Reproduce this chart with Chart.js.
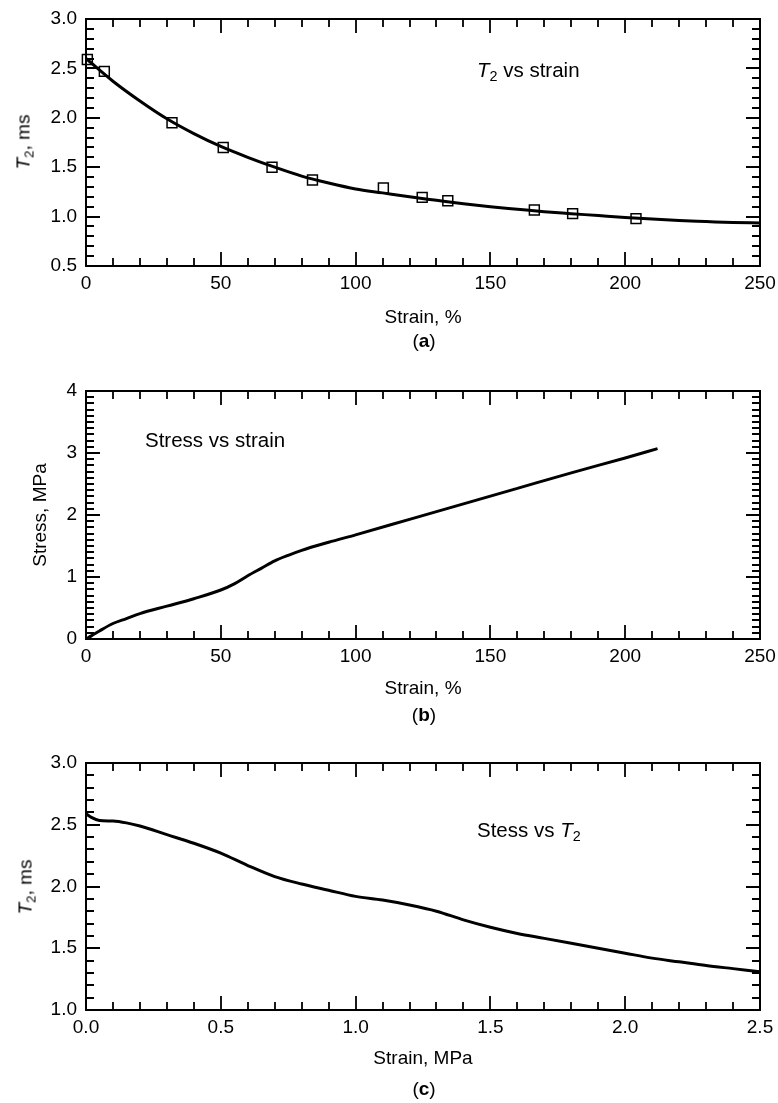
<!DOCTYPE html>
<html>
<head>
<meta charset="utf-8">
<script src="https://cdn.jsdelivr.net/npm/chart.js@4.4.0/dist/chart.umd.min.js"></script>
<style>
  body { margin: 0; background: #fff; }
  #page { position: relative; width: 778px; height: 1103px; background: #fff;
          font-family: "Liberation Sans", Arial, Helvetica, sans-serif; color: #000; }
  canvas { position: absolute; left: 0; }
  .lbl { position: absolute; white-space: nowrap; transform: translate(0, -50%); font-size: 20.5px; line-height: 1; }
  .ctr { transform: translate(-50%, -50%); }
  .rot { transform: translate(-50%, -50%) rotate(-90deg); }
  sub { font-size: 0.7em; vertical-align: -0.3em; line-height: 0; }
</style>
</head>
<body>
<div id="page">
  <canvas id="chartA" width="778" height="340" style="top:0px"></canvas>
  <canvas id="chartB" width="778" height="360" style="top:360px"></canvas>
  <canvas id="chartC" width="778" height="340" style="top:740px"></canvas>

  <div class="lbl" style="left:477px;top:70px"><i>T</i><sub>2</sub> vs strain</div>
  <div class="lbl" style="left:145px;top:440px">Stress vs strain</div>
  <div class="lbl" style="left:477px;top:830px">Stess vs <i>T</i><sub>2</sub></div>

  <div class="lbl rot" style="left:23px;top:142px;font-size:19px"><i>T</i><sub>2</sub>, ms</div>
  <div class="lbl rot" style="left:25px;top:887px;font-size:19px"><i>T</i><sub>2</sub>, ms</div>

  <div class="lbl ctr" style="left:424px;top:340px;font-size:19px">(<b>a</b>)</div>
  <div class="lbl ctr" style="left:424px;top:714px;font-size:19px">(<b>b</b>)</div>
  <div class="lbl ctr" style="left:424px;top:1088px;font-size:19px">(<b>c</b>)</div>
</div>
<script>
const FONT = '"Liberation Sans", Arial, Helvetica, sans-serif';

// (a) T2 vs strain: measured squares and fitted curve
const strainA = [0.5, 6.8, 31.9, 50.9, 69, 84, 110.3, 124.7, 134.2, 166.3, 180.5, 204];
const t2A = [2.59, 2.47, 1.95, 1.70, 1.50, 1.37, 1.29, 1.195, 1.16, 1.067, 1.03, 0.98];
const fitStrainA = [0, 10, 20, 30, 40, 50, 60, 70, 80, 90, 100, 110, 120, 130, 140, 150, 160, 170, 180, 190, 200, 210, 220, 230, 240, 250];
const fitT2A = [2.60, 2.37, 2.17, 1.99, 1.84, 1.71, 1.60, 1.50, 1.41, 1.34, 1.28, 1.24, 1.20, 1.165, 1.13, 1.10, 1.075, 1.05, 1.03, 1.01, 0.99, 0.975, 0.96, 0.95, 0.94, 0.935];
const xTicksA = [0, 50, 100, 150, 200, 250];
const yTicksA = [0.5, 1.0, 1.5, 2.0, 2.5, 3.0];

// (b) stress vs strain
const strainB = [0, 2, 5, 10, 15, 20, 30, 40, 50, 55, 60, 65, 70, 75, 80, 90, 100, 120, 140, 160, 180, 200, 212];
const stressB = [0, 0.05, 0.13, 0.25, 0.33, 0.41, 0.53, 0.65, 0.79, 0.89, 1.02, 1.14, 1.26, 1.35, 1.43, 1.56, 1.68, 1.93, 2.18, 2.43, 2.68, 2.92, 3.07];
const xTicksB = [0, 50, 100, 150, 200, 250];
const yTicksB = [0, 1, 2, 3, 4];

// (c) T2 vs stress
const stressC = [0, 0.02, 0.05, 0.1, 0.15, 0.2, 0.3, 0.4, 0.5, 0.6, 0.7, 0.8, 0.9, 1.0, 1.1, 1.2, 1.3, 1.4, 1.5, 1.6, 1.7, 1.8, 1.9, 2.0, 2.1, 2.2, 2.3, 2.4, 2.5];
const t2C = [2.59, 2.56, 2.535, 2.53, 2.515, 2.49, 2.42, 2.35, 2.27, 2.17, 2.08, 2.02, 1.97, 1.92, 1.89, 1.85, 1.80, 1.73, 1.67, 1.62, 1.58, 1.54, 1.50, 1.46, 1.42, 1.39, 1.36, 1.335, 1.31];
const xTicksC = [0, 0.5, 1.0, 1.5, 2.0, 2.5];
const yTicksC = [1.0, 1.5, 2.0, 2.5, 3.0];

const toPoints = (xs, ys) => xs.map((x, i) => ({ x: x, y: ys[i] }));

// box frame with inward major/minor ticks on all four sides
const frameTicks = {
  id: 'frameTicks',
  afterDatasetsDraw(chart, args, opts) {
    const { ctx, chartArea: a } = chart;
    const xs = chart.scales.x, ys = chart.scales.y;
    const isMajor = (scale, v) => scale.ticks.some(t => Math.abs(t.value - v) < 1e-6);
    const steps = (scale, step) => {
      const n = Math.round((scale.max - scale.min) / step);
      const out = [];
      for (let i = 0; i <= n; i++) out.push(scale.min + i * step);
      return out;
    };
    ctx.save();
    ctx.strokeStyle = '#000';
    ctx.lineWidth = 2;
    ctx.strokeRect(a.left, a.top, a.right - a.left, a.bottom - a.top);
    ctx.beginPath();
    steps(xs, opts.xMinor).forEach(v => {
      const px = Math.round(xs.getPixelForValue(v));
      const len = isMajor(xs, v) ? 14 : 8;
      ctx.moveTo(px, a.bottom); ctx.lineTo(px, a.bottom - len);
      ctx.moveTo(px, a.top); ctx.lineTo(px, a.top + len);
    });
    steps(ys, opts.yMinor).forEach(v => {
      const py = Math.round(ys.getPixelForValue(v));
      const len = isMajor(ys, v) ? 14 : 8;
      ctx.moveTo(a.left, py); ctx.lineTo(a.left + len, py);
      ctx.moveTo(a.right, py); ctx.lineTo(a.right - len, py);
    });
    ctx.lineWidth = 1.8;
    ctx.stroke();
    ctx.restore();
  }
};

function makeOptions(o) {
  return {
    responsive: false,
    animation: false,
    devicePixelRatio: 1,
    layout: { padding: { top: o.padTop, right: 18, left: 0, bottom: 0 } },
    plugins: {
      legend: { display: false },
      tooltip: { enabled: false },
      frameTicks: { xMinor: o.xMinor, yMinor: o.yMinor }
    },
    scales: {
      x: {
        type: 'linear',
        min: o.xTicks[0],
        max: o.xTicks[o.xTicks.length - 1],
        grid: { display: false, drawTicks: false },
        border: { display: false },
        afterBuildTicks: s => { s.ticks = o.xTicks.map(v => ({ value: v })); },
        afterFit: s => { s.height = o.xHeight; s.paddingLeft = 0; s.paddingRight = 0; },
        ticks: { padding: 6, color: '#000', font: { family: FONT, size: 19 }, maxRotation: 0, autoSkip: false, callback: o.xFmt },
        title: { display: true, text: o.xTitle, color: '#000', font: { family: FONT, size: 19 }, padding: { top: 0, bottom: o.xTitlePad } }
      },
      y: {
        type: 'linear',
        min: o.yTicks[0],
        max: o.yTicks[o.yTicks.length - 1],
        grid: { display: false, drawTicks: false },
        border: { display: false },
        afterBuildTicks: s => { s.ticks = o.yTicks.map(v => ({ value: v })); },
        afterFit: s => { s.width = 86; s.paddingTop = 0; s.paddingBottom = 0; },
        ticks: { padding: 9, color: '#000', font: { family: FONT, size: 19 }, autoSkip: false, callback: o.yFmt },
        title: o.yTitle
          ? { display: true, text: o.yTitle, color: '#000', font: { family: FONT, size: 19 }, padding: { top: o.yTitlePad, bottom: 0 } }
          : { display: false }
      }
    }
  };
}

const lineStyle = { showLine: true, borderColor: '#000', borderWidth: 3, pointRadius: 0, cubicInterpolationMode: 'monotone', fill: false };
const fixed1 = v => Number(v).toFixed(1);
const plain = v => String(v);

new Chart(document.getElementById('chartA'), {
  type: 'scatter',
  data: {
    datasets: [
      Object.assign({ data: toPoints(fitStrainA, fitT2A) }, lineStyle),
      {
        data: toPoints(strainA, t2A),
        showLine: false,
        pointStyle: 'rect',
        pointRadius: 7,
        borderColor: '#000',
        borderWidth: 1.5,
        backgroundColor: 'rgba(0,0,0,0)',
        clip: false
      }
    ]
  },
  options: makeOptions({
    padTop: 19, xHeight: 74, xTitlePad: 10.6, xTitle: 'Strain, %',
    xTicks: xTicksA, yTicks: yTicksA, xMinor: 10, yMinor: 0.1,
    xFmt: plain, yFmt: fixed1
  }),
  plugins: [frameTicks]
});

new Chart(document.getElementById('chartB'), {
  type: 'scatter',
  data: { datasets: [Object.assign({ data: toPoints(strainB, stressB) }, lineStyle)] },
  options: makeOptions({
    padTop: 31, xHeight: 81, xTitlePad: 19.6, xTitle: 'Strain, %',
    yTitle: 'Stress, MPa', yTitlePad: 29.6,
    xTicks: xTicksB, yTicks: yTicksB, xMinor: 10, yMinor: 0.1,
    xFmt: plain, yFmt: plain
  }),
  plugins: [frameTicks]
});

new Chart(document.getElementById('chartC'), {
  type: 'scatter',
  data: { datasets: [Object.assign({ data: toPoints(stressC, t2C) }, lineStyle)] },
  options: makeOptions({
    padTop: 23, xHeight: 70, xTitlePad: 9.6, xTitle: 'Strain, MPa',
    xTicks: xTicksC, yTicks: yTicksC, xMinor: 0.1, yMinor: 0.1,
    xFmt: fixed1, yFmt: fixed1
  }),
  plugins: [frameTicks]
});
</script>
</body>
</html>
